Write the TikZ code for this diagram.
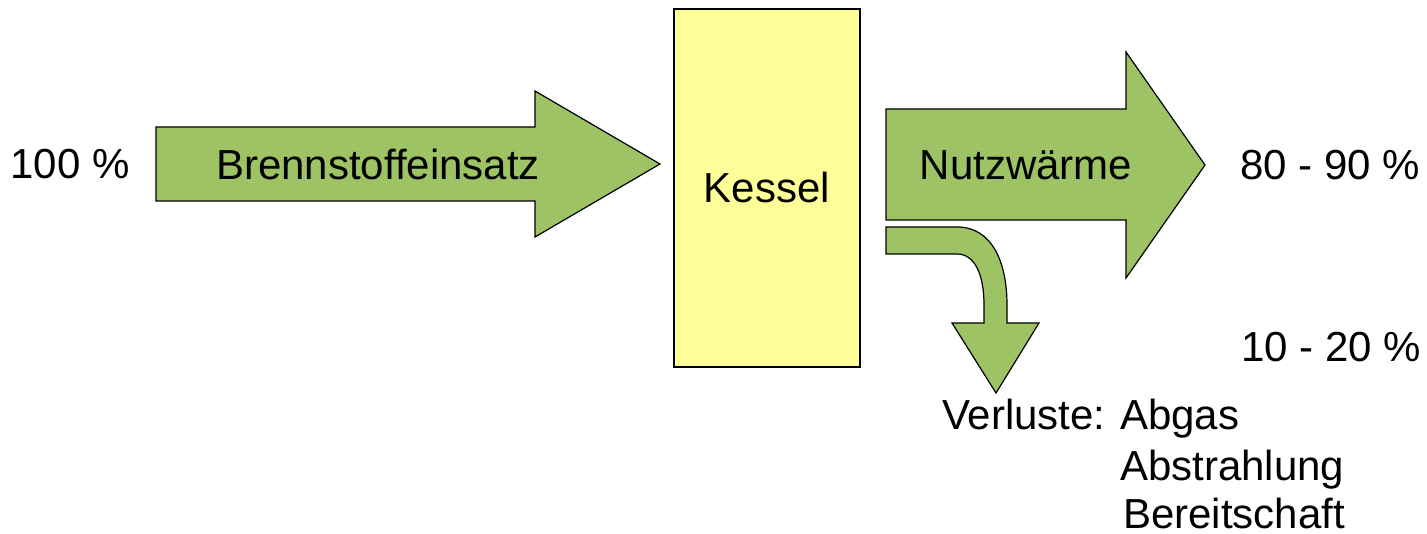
\documentclass[tikz,border=0pt]{standalone}
\usepackage{fontspec}
\setmainfont{Liberation Sans}
\definecolor{arrowgreen}{HTML}{9DC365}
\definecolor{boxyellow}{HTML}{FFFF99}
\begin{document}
\begin{tikzpicture}[x=1pt,y=-1pt,
  flow/.style={fill=arrowgreen,draw=black,line width=1.2pt,line join=miter},
  lbl/.style={inner sep=0pt,font=\fontsize{42}{50}\selectfont},
]
\useasboundingbox (0,0) rectangle (1427,534);
% Kessel
\draw[fill=boxyellow,draw=black,line width=1.2pt] (674,9) rectangle (860,367);
\node[lbl,anchor=base] (kessel) at (767,203) {Kessel};
% input arrow
\draw[flow] (156,127) -- (535,127) -- (535,91) -- (660,164) -- (535,237) -- (535,201) -- (156,201) -- cycle;
\node[lbl,anchor=base] (brenn) at (378,180) {Brennstoffeinsatz};
% output arrow
\draw[flow] (886,109) -- (1126,109) -- (1126,52) -- (1205,165) -- (1126,278) -- (1126,220) -- (886,220) -- cycle;
\node[lbl,anchor=base] (nutz) at (1026,180) {Nutzwärme};
% loss arrow
\draw[flow] (886,227) -- (957,227) .. controls (992,227) and (1007,262) .. (1007,305) -- (1007,323) -- (1039,323) -- (996,393) -- (952,323) -- (984,323) -- (984,305) .. controls (984,275) and (975,254) .. (957,254) -- (886,254) -- cycle;
% labels
\node[lbl,anchor=base] (p100) at (70,179) {100 \%};
\node[lbl,anchor=base] (p8090) at (1330,180) {80 - 90 \%};
\node[lbl,anchor=base] (p1020) at (1331,362) {10 - 20 \%};
\node[lbl,anchor=base west] (verl) at (942,429) {Verluste:};
\node[lbl,anchor=base west] (abgas) at (1120,429) {Abgas};
\node[lbl,anchor=base west] (abstr) at (1120,480) {Abstrahlung};
\node[lbl,anchor=base west] (bereit) at (1123,528) {Bereitschaft};
\end{tikzpicture}
\end{document}
